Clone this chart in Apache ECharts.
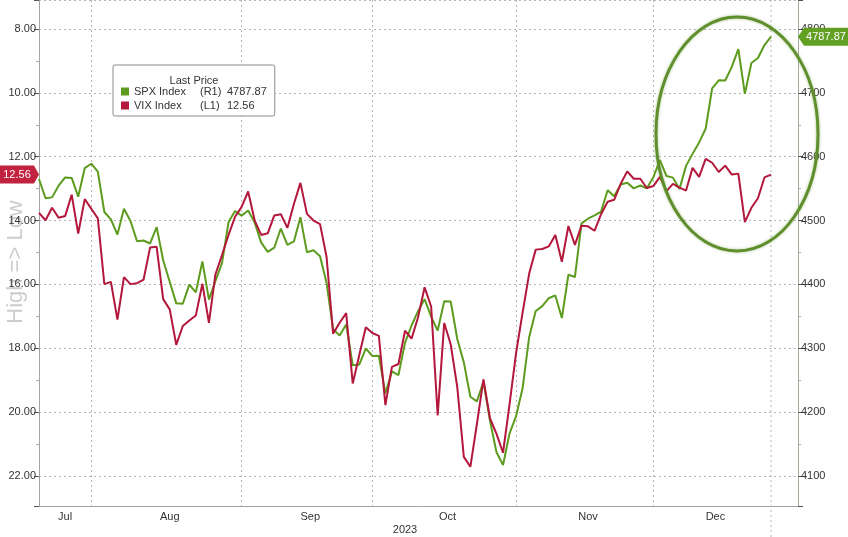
<!DOCTYPE html>
<html><head><meta charset="utf-8">
<script src="https://cdn.jsdelivr.net/npm/echarts@6/dist/echarts.min.js"></script>
<style>html,body{margin:0;padding:0;background:#fff}#c{width:848px;height:537px}</style>
</head><body><div id="c"></div>
<script>
// ---- data ----
const monthNames = ['Jul','Aug','Sep','Oct','Nov','Dec'];
const yearLabel = '2023';
const julDays = [19,20,21,24,25,26,27,28,31];
const augDays = [1,2,3,4,7,8,9,10,11,14,15,16,17,18,21,22,23,24,25,28,29,30,31];
const sepDays = [1,5,6,7,8,11,12,13,14,15,18,19,20,21,22,25,26,27,28,29];
const octDays = [2,3,4,5,6,9,10,11,12,13,16,17,18,19,20,23,24,25,26,27,30,31];
const novDays = [1,2,3,6,7,8,9,10,13,14,15,16,17,20,21,22,24,27,28,29,30];
const decDays = [1,4,5,6,7,8,11,12,13,14,15,18,19,20,21,22,26,27];

const spx = [4565.0,4534.9,4536.3,4554.6,4567.5,4566.8,4537.4,4582.2,4589.0,
 4576.7,4513.4,4501.9,4478.0,4518.4,4499.4,4467.7,4468.8,4464.1,4489.7,4437.9,4404.3,4370.4,4369.7,4399.8,4387.6,4436.0,4376.3,4405.7,4433.3,4497.6,4514.9,4507.7,
 4515.8,4496.8,4465.5,4451.1,4457.5,4487.5,4461.9,4467.4,4505.1,4450.3,4453.5,4444.0,4402.2,4330.0,4320.1,4337.4,4273.5,4274.5,4299.7,4288.1,
 4288.4,4229.5,4263.8,4258.2,4308.5,4335.7,4358.2,4377.0,4349.6,4327.8,4373.6,4373.2,4314.6,4278.0,4224.2,4217.0,4247.7,4186.8,4137.2,4117.4,4166.8,4193.8,
 4237.9,4317.8,4358.3,4366.0,4378.4,4382.8,4347.4,4415.2,4411.6,4495.7,4502.9,4508.2,4514.0,4547.4,4538.2,4556.6,4559.3,4550.4,4554.9,4550.6,4567.8,
 4594.6,4569.8,4567.2,4549.3,4585.6,4604.4,4622.4,4643.7,4707.1,4719.6,4719.2,4740.6,4768.4,4698.4,4746.8,4754.6,4774.8,4787.87];

const vix = [13.76,13.99,13.60,13.91,13.86,13.19,14.41,13.33,13.63,
 13.93,15.99,15.92,17.10,15.77,15.99,15.96,15.85,14.84,14.82,16.46,16.78,17.89,17.30,17.13,16.97,15.98,17.20,15.68,15.08,14.45,13.88,13.57,
 13.09,14.00,14.45,14.40,13.84,13.80,14.23,13.48,12.82,13.79,14.00,14.11,15.14,17.54,17.20,16.90,19.10,18.22,17.34,17.52,
 17.61,19.78,18.58,18.49,17.45,17.70,17.03,16.09,16.69,20.10,17.21,17.88,19.22,21.40,21.71,20.37,18.97,20.19,20.68,21.27,19.75,18.14,
 16.87,15.66,14.91,14.89,14.81,14.45,15.29,14.17,14.76,14.16,14.18,14.32,13.80,13.41,13.35,12.85,12.46,12.69,12.69,12.98,12.92,
 12.63,13.08,12.85,12.97,13.06,12.35,12.63,12.07,12.19,12.48,12.28,12.56,12.53,14.05,13.60,13.30,12.65,12.56];

const seriesNames = ['SPX Index','VIX Index'];
const seriesAxisCodes = ['(R1)','(L1)'];
const legendTitle = 'Last Price';
const sideNote = 'High => Low';

// ---- derived ----
const months = [julDays,augDays,sepDays,octDays,novDays,decDays];
const dates = [];
const monthStart = [], monthMid = [];
months.forEach((m, mi) => {
  monthStart.push(dates.length);
  monthMid.push(dates.length + (m.length - 1) / 2);
  m.forEach(d => dates.push(monthNames[mi] + ' ' + d));
});
// month separators at the last session of each previous month
const boundaries = monthStart.slice(1).map(s => s - 1);
const lastIdx = dates.length - 1;
const FONT = '"Liberation Sans", Arial, sans-serif';
const GREEN = '#5c9b1e', RED = '#b3173b';
const dotted = { type: [2, 3], color: '#b4b4b4', width: 1 };

const chart = echarts.init(document.getElementById('c'), null, { renderer: 'canvas' });
const fmtNum = v => v.toFixed(2);

chart.setOption({
  animation: false,
  backgroundColor: '#fff',
  grid: { left: 39, right: 50, top: -1, bottom: 31, containLabel: false },
  legend: {
    orient: 'vertical', left: 113, top: 65,
    icon: 'rect', itemWidth: 8, itemHeight: 8, itemGap: 3,
    padding: [21, 8, 5, 8],
    backgroundColor: '#fff', borderColor: '#8c8c8c', borderWidth: 1, borderRadius: 2,
    selectedMode: false,
    data: seriesNames,
    textStyle: { fontFamily: FONT, fontSize: 11, color: '#333',
      rich: { n: { width: 66, fontFamily: FONT, fontSize: 11, color: '#333' },
              t: { width: 27, fontFamily: FONT, fontSize: 11, color: '#333' },
              v: { fontFamily: FONT, fontSize: 11, color: '#333' } } },
    formatter: name => {
      const i = seriesNames.indexOf(name);
      const arr = i === 0 ? spx : vix;
      return '{n|' + name + '}{t|' + seriesAxisCodes[i] + '}{v|' + fmtNum(arr[arr.length - 1]) + '}';
    }
  },
  xAxis: {
    type: 'value', min: 0, max: lastIdx + 4.13,
    axisLine: { show: true, lineStyle: { color: '#a3a3a3', width: 1 } },
    axisTick: { show: false, customValues: boundaries },
    splitLine: { show: true, lineStyle: dotted, customValues: boundaries },
    axisLabel: {
      customValues: monthMid, margin: 5, color: '#333', fontFamily: FONT, fontSize: 11,
      formatter: v => { const k = monthMid.findIndex(m => Math.abs(m - v) < 1e-6); return k >= 0 ? monthNames[k] : ''; }
    }
  },
  yAxis: [
    { type: 'value', position: 'left', inverse: true, min: 8 - 29 / 32, max: 8 + 478 / 32, splitNumber: 8,
      axisLine: { show: true, lineStyle: { color: '#a3a3a3' } },
      axisTick: { show: true, length: 5, lineStyle: { color: '#555' } },
      minorTick: { show: true, splitNumber: 2, length: 3, lineStyle: { color: '#aaa' } },
      splitLine: { show: false },
      axisLabel: { showMinLabel: false, showMaxLabel: false, margin: 3, color: '#333', fontFamily: FONT, fontSize: 11, formatter: fmtNum } },
    { type: 'value', position: 'right', min: 4800 - 478 / 0.64, max: 4800 + 29 / 0.64, splitNumber: 8,
      axisLine: { show: true, lineStyle: { color: '#a6ab9c' } },
      axisTick: { show: true, length: 5, lineStyle: { color: '#555' } },
      minorTick: { show: true, splitNumber: 2, length: 3, lineStyle: { color: '#aaa' } },
      splitLine: { show: true, lineStyle: dotted },
      axisLabel: { showMinLabel: false, showMaxLabel: false, margin: 3, color: '#333', fontFamily: FONT, fontSize: 11,
        formatter: v => String(Math.round(v)) } }
  ],
  series: [
    { name: seriesNames[0], type: 'line', yAxisIndex: 1, symbol: 'none', z: 3,
      data: spx.map((v, i) => [i, v]), itemStyle: { color: GREEN },
      lineStyle: { color: GREEN, width: 2 } },
    { name: seriesNames[1], type: 'line', yAxisIndex: 0, symbol: 'none', z: 4,
      data: vix.map((v, i) => [i, v]), itemStyle: { color: RED },
      lineStyle: { color: RED, width: 2 } }
  ]
});

// ---- annotations positioned through the axes ----
const yV = chart.convertToPixel({ yAxisIndex: 0 }, vix[lastIdx]);
const yS = chart.convertToPixel({ yAxisIndex: 1 }, spx[lastIdx]);
const xLast = chart.convertToPixel({ xAxisIndex: 0 }, lastIdx);
const xMid = chart.convertToPixel({ xAxisIndex: 0 }, lastIdx / 2);
const xL = chart.convertToPixel({ xAxisIndex: 0 }, 0);
const xR = chart.getWidth() - 50;

chart.setOption({
  graphic: [
    { type: 'line', z: 1, silent: true, shape: { x1: xLast, y1: 0, x2: xLast, y2: 537 },
      style: { stroke: '#b4b4b4', lineWidth: 1, lineDash: [2, 3] } },
    { type: 'text', z: 0, silent: true, x: 16, y: 262, rotation: Math.PI / 2,
      style: { text: sideNote, fontFamily: FONT, fontSize: 22, fill: '#cdcdcd', align: 'center', verticalAlign: 'middle' } },
    { type: 'text', z: 10, x: xMid, y: 530,
      style: { text: yearLabel, fontFamily: FONT, fontSize: 11, fill: '#333', align: 'center', verticalAlign: 'middle' } },
    { type: 'text', z: 10, x: 194, y: 81,
      style: { text: legendTitle, fontFamily: FONT, fontSize: 11, fill: '#333', align: 'center', verticalAlign: 'middle' } },
    { type: 'ellipse', z: 20, silent: true, shape: { cx: 737, cy: 134, rx: 81, ry: 117 },
      style: { fill: 'none', stroke: '#5f8f2c', lineWidth: 3, shadowBlur: 3, shadowColor: 'rgba(95,143,44,0.5)' } },
    { type: 'polygon', z: 30, shape: { points: [[0, yV - 9], [xL - 5, yV - 9], [xL, yV], [xL - 5, yV + 9], [0, yV + 9]] },
      style: { fill: '#c0223f' } },
    { type: 'text', z: 31, x: (xL - 5) / 2, y: yV,
      style: { text: fmtNum(vix[lastIdx]), fontFamily: FONT, fontSize: 11, fill: '#fff', align: 'center', verticalAlign: 'middle' } },
    { type: 'polygon', z: 30, shape: { points: [[xR, yS], [xR + 6, yS - 9], [848, yS - 9], [848, yS + 9], [xR + 6, yS + 9]] },
      style: { fill: '#62a024' } },
    { type: 'text', z: 31, x: (xR + 6 + 848) / 2, y: yS,
      style: { text: fmtNum(spx[lastIdx]), fontFamily: FONT, fontSize: 11, fill: '#fff', align: 'center', verticalAlign: 'middle' } }
  ]
});
</script>
</body></html>
